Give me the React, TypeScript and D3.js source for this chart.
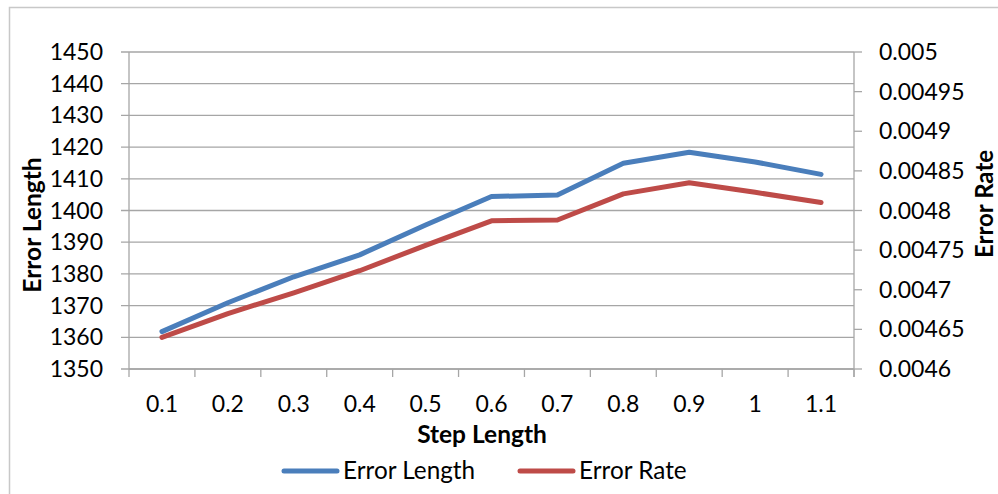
import React from "react";
import * as d3 from "d3";

const categories = ["0.1", "0.2", "0.3", "0.4", "0.5", "0.6", "0.7", "0.8", "0.9", "1", "1.1"];
const errorLength = [1361.8, 1370.9, 1379.1, 1386.0, 1395.4, 1404.4, 1404.9, 1414.9, 1418.4, 1415.3, 1411.4];
const errorRate = [0.00464, 0.00467, 0.004696, 0.004724, 0.004756, 0.004787, 0.004788, 0.004821, 0.004835, 0.004823, 0.00481];
const leftTicks = [1350, 1360, 1370, 1380, 1390, 1400, 1410, 1420, 1430, 1440, 1450];
const rightTicks = ["0.0046", "0.00465", "0.0047", "0.00475", "0.0048", "0.00485", "0.0049", "0.00495", "0.005"];

const W = 998, H = 494;
const left = 129, right = 854, top = 52, bottom = 369;
const FONT = "Lato, 'Open Sans', sans-serif";
const BLUE = "#4a7ebb";
const RED = "#be4b48";
const GRID = "#a6a6a6";

export default function App() {
  const x = d3.scaleBand<string>().domain(categories).range([left, right]);
  const yL = d3.scaleLinear().domain([1350, 1450]).range([bottom, top]);
  const yR = d3.scaleLinear().domain([0.0046, 0.005]).range([bottom, top]);
  const cx = (c: string) => (x(c) as number) + x.bandwidth() / 2;

  const lineL = d3.line<number>().x((_, i) => cx(categories[i])).y((d) => yL(d));
  const lineR = d3.line<number>().x((_, i) => cx(categories[i])).y((d) => yR(d));

  const boundaries = categories.map((c) => x(c) as number).concat([right]);

  return (
    <svg width={W} height={H} style={{ position: "absolute", left: 0, top: 0, background: "#fff" }} fontFamily={FONT}>
      <rect x={9.5} y={7.5} width={W + 10} height={H + 10} fill="#fff" stroke="#c8c8c8" strokeWidth={1.5} />
      {/* gridlines */}
      {leftTicks.map((t) => (
        <line key={"g" + t} x1={left - 8} x2={right} y1={yL(t)} y2={yL(t)} stroke={GRID} strokeWidth={1.3} />
      ))}
      {/* right ticks */}
      {rightTicks.map((t) => (
        <line key={"rt" + t} x1={right} x2={right + 8} y1={yR(+t)} y2={yR(+t)} stroke={GRID} strokeWidth={1.3} />
      ))}
      {/* axes */}
      <line x1={left} x2={left} y1={top} y2={bottom} stroke={GRID} strokeWidth={1.3} />
      <line x1={right} x2={right} y1={top} y2={bottom + 8} stroke={GRID} strokeWidth={1.3} />
      <line x1={left} x2={right} y1={bottom} y2={bottom} stroke={GRID} strokeWidth={1.3} />
      {boundaries.map((b, i) => (
        <line key={"xt" + i} x1={b} x2={b} y1={bottom} y2={bottom + 8} stroke={GRID} strokeWidth={1.3} />
      ))}
      {/* left labels */}
      {leftTicks.map((t) => (
        <text key={"l" + t} x={103} y={yL(t)} dy="0.35em" textAnchor="end" fontSize={23} fill="#000">
          {t}
        </text>
      ))}
      {rightTicks.map((t) => (
        <text key={"r" + t} x={879} y={yR(+t)} dy="0.35em" textAnchor="start" fontSize={23} fill="#000">
          {t}
        </text>
      ))}
      {categories.map((c) => (
        <text key={"c" + c} x={cx(c)} y={412} textAnchor="middle" fontSize={23} fill="#000">
          {c}
        </text>
      ))}
      {/* titles */}
      <text x={482} y={443} textAnchor="middle" fontSize={24.5} fontWeight="bold" fill="#000">
        Step Length
      </text>
      <text transform={`translate(41,225) rotate(-90)`} textAnchor="middle" fontSize={24.5} fontWeight="bold" fill="#000">
        Error Length
      </text>
      <text transform={`translate(993,204) rotate(-90)`} textAnchor="middle" fontSize={24} fontWeight="bold" fill="#000">
        Error Rate
      </text>
      {/* series */}
      <path d={lineL(errorLength) || ""} fill="none" stroke={BLUE} strokeWidth={5} strokeLinecap="round" strokeLinejoin="round" />
      <path d={lineR(errorRate) || ""} fill="none" stroke={RED} strokeWidth={5} strokeLinecap="round" strokeLinejoin="round" />
      {/* legend */}
      <line x1={284} x2={337} y1={471} y2={471} stroke={BLUE} strokeWidth={5} strokeLinecap="round" />
      <text x={343} y={479} fontSize={24.3} fill="#000">Error Length</text>
      <line x1={520} x2={573} y1={471} y2={471} stroke={RED} strokeWidth={5} strokeLinecap="round" />
      <text x={579} y={479} fontSize={24.3} fill="#000">Error Rate</text>
    </svg>
  );
}
